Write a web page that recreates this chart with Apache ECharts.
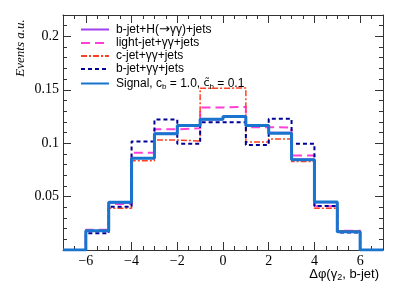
<!DOCTYPE html>
<html><head><meta charset="utf-8">
<script src="https://cdn.jsdelivr.net/npm/echarts@6/dist/echarts.min.js"></script>
<style>html,body{margin:0;padding:0;background:#fff}#c{width:400px;height:294px}</style>
</head><body><div id="c"></div>
<script>
// Bin edges (Δφ) and normalized event fractions per bin
const binEdges = [-7,-6,-5,-4,-3,-2,-1,0,1,2,3,4,5,6,7];
const bjetH     = [0, 0.0178, 0.0443, 0.0862, 0.1090, 0.1160, 0.1222, 0.1245, 0.1160, 0.1098, 0.0848, 0.0446, 0.0170, 0];
const lightjet  = [0, 0.0190, 0.0430, 0.0910, 0.1130, 0.1140, 0.1335, 0.1340, 0.1150, 0.1147, 0.0884, 0.0410, 0.0180, 0];
const cjet      = [0, 0.0180, 0.0390, 0.0835, 0.1030, 0.1020, 0.1515, 0.1516, 0.1010, 0.1038, 0.0828, 0.0390, 0.0180, 0];
const bjet      = [0, 0.0156, 0.0406, 0.1016, 0.1222, 0.0995, 0.1197, 0.1197, 0.0984, 0.1228, 0.0995, 0.0412, 0.0163, 0];
const signal    = [0, 0.0180, 0.0447, 0.0860, 0.1088, 0.1166, 0.1225, 0.1250, 0.1166, 0.1094, 0.0844, 0.0450, 0.0172, 0];
const seriesNames = ['b-jet+H(→γγ)+jets','light-jet+γγ+jets','c-jet+γγ+jets','b-jet+γγ+jets','Signal'];
const xMajorTicks = [-6,-4,-2,0,2,4,6];
const yMajorTicks = [0.05,0.1,0.15,0.2];

function stepData(vals){
  return binEdges.map((e,i)=>[e, vals[Math.min(i, vals.length-1)]]);
}
const chart = echarts.init(document.getElementById('c'), null, {renderer:'canvas'});
const axCol = '#333';
function xAx(pos, major){
  return {type:'value', min:-7, max:7, position:pos, gridIndex:0,
    interval: major ? undefined : 0.5,
    axisLine:{show:major, onZero:false, lineStyle:{color:axCol,width:1}},
    axisTick:Object.assign({show:true, inside:true, length: major?8:4, lineStyle:{color:axCol}}, major?{customValues:xMajorTicks}:{}),
    axisLabel:Object.assign({show: major && pos==='bottom', margin:4, color:'#000', fontFamily:'Liberation Serif', fontSize:14,
      formatter:v=>String(v).replace('-','\u2212')}, major?{customValues:xMajorTicks}:{}),
    splitLine:{show:false}};
}
function yAx(pos, major){
  return {type:'value', min:0, max:0.22, position:pos, gridIndex:0,
    interval: major ? undefined : 0.01,
    axisLine:{show:major, onZero:false, lineStyle:{color:axCol,width:1}},
    axisTick:Object.assign({show:true, inside:true, length: major?8:4, lineStyle:{color:axCol}}, major?{customValues:[0].concat(yMajorTicks)}:{}),
    axisLabel:Object.assign({show: major && pos==='left', margin:4, color:'#000', fontFamily:'Liberation Serif', fontSize:14,
      formatter:v=>String(+v.toFixed(2))}, major?{customValues:yMajorTicks}:{}),
    splitLine:{show:false}};
}
const xa = [xAx('bottom',true), xAx('bottom',false), xAx('top',true), xAx('top',false)];
const ya = [yAx('left',true), yAx('left',false), yAx('right',true), yAx('right',false)];

const styles = [
  {color:'#a040f0', width:2, type:'solid'},
  {color:'#ff40d8', width:2, type:[9,5]},
  {color:'#ff4020', width:1.5, type:[6,2,2,2]},
  {color:'#000099', width:2, type:[4,3]},
  {color:'#1874cd', width:3, type:'solid'}
];
const data = [bjetH, lightjet, cjet, bjet, signal];
const series = data.map((d,i)=>({
  name: seriesNames[i], type:'line', step:'end', xAxisIndex:0, yAxisIndex:0,
  data: stepData(d), symbol:'none', showSymbol:false, z: i===4?10:(i===0?3:5+i),
  lineStyle: styles[i], itemStyle:{color:styles[i].color}, animation:false
}));

function legendFmt(n){
  if (n === 'Signal') return '{f|Signal, c}{s|b}{n| = 1.0, }{t|c\u0303}{s|b}{n| = 0.1}';
  return n.split('→').map((p,i) => '{' + (i===0?'f':'n') + '|' + p + '}').join('{a|→}');
}

chart.setOption({
  animation:false,
  grid:{left:63, right:17, top:15, bottom:44, containLabel:false, outerBoundsMode:'none'},
  xAxis: xa, yAxis: ya,
  legend:{orient:'vertical', left:80, top:23, itemWidth:28, itemHeight:10, itemGap:1, padding:0,
    data: seriesNames, itemStyle:{opacity:0},
    textStyle:{fontFamily:'Liberation Sans', fontSize:12, color:'#000',
      rich:{f:{fontFamily:'Liberation Sans', fontSize:12, lineHeight:12, color:'#000', padding:[0,0,0,2]},
            n:{fontFamily:'Liberation Sans', fontSize:12, lineHeight:12, color:'#000'},
            a:{fontFamily:'DejaVu Sans', fontSize:13, lineHeight:12, color:'#000'},
            t:{fontFamily:'DejaVu Sans', fontSize:11, lineHeight:12, color:'#000'},
            s:{fontFamily:'Liberation Sans', fontSize:8, lineHeight:12, color:'#000', padding:[7,0,0,0]}}},
    formatter: legendFmt
  },
  graphic:[
    {type:'text', x:21, y:48, rotation:Math.PI/2,
      style:{text:'Events a.u.', fontFamily:'Liberation Serif', fontStyle:'italic', fontSize:13, fill:'#000', textAlign:'center', textVerticalAlign:'middle'}},
    {type:'text', x:379, y:274,
      style:{text:'{n|Δφ(γ}{s|2}{n|, b-jet)}', align:'right', verticalAlign:'middle', fill:'#000',
        rich:{n:{fontFamily:'Liberation Sans', fontSize:13, lineHeight:14, fill:'#000'},
              s:{fontFamily:'Liberation Sans', fontSize:9, lineHeight:14, fill:'#000', padding:[7,0,0,0]}}}}
  ],
  series: series
});
</script></body></html>
